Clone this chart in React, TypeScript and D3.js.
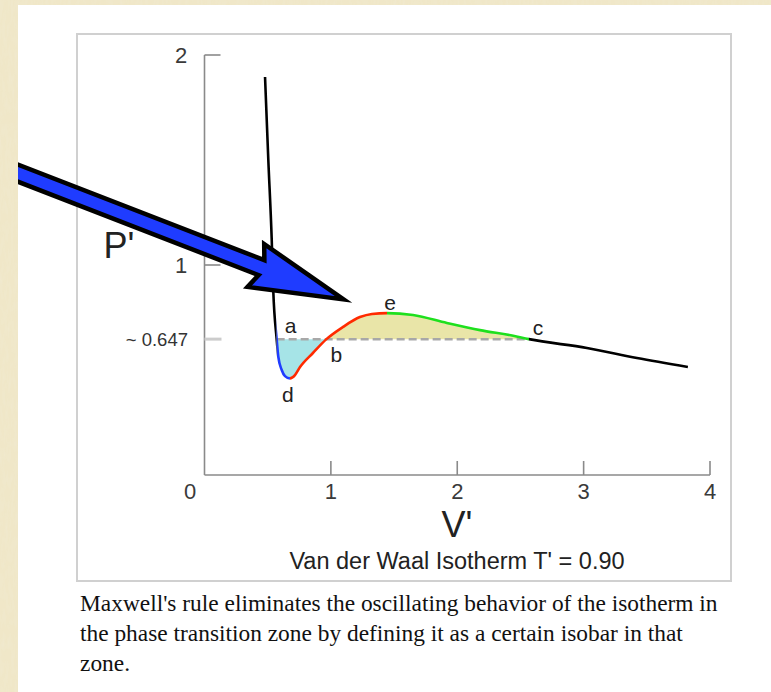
import React from 'react';
import * as d3 from 'd3';

const WIDTH = 771;
const HEIGHT = 692;

// Reduced van der Waals isotherm, T' = 0.90, sampled as (V', P') per branch
const liquidBranch: [number, number][] = [
  [0.479, 1.895], [0.505, 1.5], [0.532, 1.119], [0.544, 0.881], [0.571, 0.647],
];
const metastableLiquid: [number, number][] = [
  [0.571, 0.647], [0.584, 0.563], [0.611, 0.5], [0.637, 0.471], [0.676, 0.46],
];
const unstableBranch: [number, number][] = [
  [0.676, 0.46], [0.716, 0.476], [0.756, 0.514], [0.858, 0.581], [0.965, 0.647],
  [1.096, 0.705], [1.23, 0.752], [1.325, 0.767], [1.444, 0.771],
];
const metastableVapor: [number, number][] = [
  [1.444, 0.771], [1.65, 0.762], [1.918, 0.724], [2.18, 0.69], [2.443, 0.663], [2.567, 0.647],
];
const vaporBranch: [number, number][] = [
  [2.567, 0.647], [3.026, 0.605], [3.422, 0.557], [3.825, 0.514],
];

const maxwellPressure = 0.647;
const maxwellLabel = '~ 0.647';
const xTicks = [0, 1, 2, 3, 4];
const yTicks = [1, 2];
const xTitle = "V'";
const yTitle = "P'";
const chartTitle = "Van der Waal Isotherm  T' = 0.90";
const captionLines = [
  "Maxwell's rule eliminates the oscillating behavior of the isotherm in",
  'the phase transition zone by defining it as a certain isobar in that',
  'zone.',
];

// Named points on the isotherm
const pointA = liquidBranch[liquidBranch.length - 1];
const pointB = unstableBranch[4];
const pointC = metastableVapor[metastableVapor.length - 1];
const pointD = metastableLiquid[metastableLiquid.length - 1];
const pointE = unstableBranch[unstableBranch.length - 1];
const pointLabels: { name: string; p: [number, number]; dx: number; dy: number }[] = [
  { name: 'a', p: pointA, dx: 14, dy: -14 },
  { name: 'b', p: pointB, dx: 10, dy: 15 },
  { name: 'c', p: pointC, dx: 9, dy: -12 },
  { name: 'd', p: pointD, dx: -2, dy: 16 },
  { name: 'e', p: pointE, dx: 3, dy: -11 },
];

// Arrow pointing at the unstable region
const arrowTip: [number, number] = [1.1, 0.836];
const arrowAngleDeg = 21.2;

const SANS = '"Liberation Sans", Arial, Helvetica, sans-serif';
const SERIF = '"Liberation Serif", "Times New Roman", serif';

export default function App() {
  const x = d3.scaleLinear().domain([0, 4]).range([204.5, 710]);
  const y = d3.scaleLinear().domain([0, 2]).range([475, 55]);

  const isotherm: [number, number][] = [
    ...liquidBranch,
    ...metastableLiquid.slice(1),
    ...unstableBranch.slice(1),
    ...metastableVapor.slice(1),
    ...vaporBranch.slice(1),
  ];
  const curve = d3.curveMonotoneX;
  const linePath = d3.line<[number, number]>().x((d) => x(d[0])).y((d) => y(d[1])).curve(curve)(isotherm) || '';
  const areaPath =
    d3.area<[number, number]>().x((d) => x(d[0])).y0(y(maxwellPressure)).y1((d) => y(d[1])).curve(curve)(isotherm) || '';

  const segments = [
    { id: 'seg-liquid', from: -1, to: pointA[0], color: '#000000' },
    { id: 'seg-mliquid', from: pointA[0], to: pointD[0], color: '#1f3cff' },
    { id: 'seg-unstable', from: pointD[0], to: pointE[0], color: '#ff2a00' },
    { id: 'seg-mvapor', from: pointE[0], to: pointC[0], color: '#1ee01e' },
    { id: 'seg-vapor', from: pointC[0], to: 5, color: '#000000' },
  ];
  const fills = [
    { id: 'fill-liquid', from: pointA[0], to: pointB[0], color: '#a6e4e7' },
    { id: 'fill-vapor', from: pointB[0], to: pointC[0], color: '#e9e5a8' },
  ];

  const yMaxwell = y(maxwellPressure);

  // arrow geometry in local frame (tip at origin, pointing +x)
  const [tx, ty] = [x(arrowTip[0]), y(arrowTip[1])];
  const shaftHalf = 8;
  const headHalf = 23;
  const headLen = 94;
  const neck = 88;
  const arrowPts = [
    [0, 0], [-headLen, -headHalf], [-neck, -shaftHalf], [-500, -shaftHalf],
    [-500, shaftHalf], [-neck, shaftHalf], [-headLen, headHalf],
  ];

  return (
    <svg
      width={WIDTH}
      height={HEIGHT}
      viewBox={`0 0 ${WIDTH} ${HEIGHT}`}
      style={{ position: 'absolute', left: 0, top: 0, display: 'block', background: '#ffffff' }}
    >
      <defs>
        {segments.concat(fills).map((s) => (
          <clipPath id={s.id} key={s.id}>
            <rect x={x(s.from)} y={0} width={x(s.to) - x(s.from)} height={HEIGHT} />
          </clipPath>
        ))}
        <filter id="parchment" x="0" y="0" width="100%" height="100%">
          <feTurbulence type="fractalNoise" baseFrequency="0.35 0.08" numOctaves="3" seed="4" result="noise" />
          <feColorMatrix
            in="noise"
            type="matrix"
            values="0 0 0 0 0.88  0 0 0 0 0.82  0 0 0 0 0.64  0 0 0 -1.1 0.7"
            result="tint"
          />
          <feComposite in="tint" in2="SourceGraphic" operator="in" result="spots" />
          <feMerge>
            <feMergeNode in="SourceGraphic" />
            <feMergeNode in="spots" />
          </feMerge>
        </filter>
      </defs>

      <rect x={0} y={0} width={WIDTH} height={HEIGHT} fill="#ffffff" />

      {/* figure frame */}
      <rect x={77} y={34} width={654} height={547} fill="#ffffff" stroke="#d0d0d0" strokeWidth={2} />

      {/* Maxwell equal-area fills */}
      {fills.map((f) => (
        <path key={f.id} d={areaPath} fill={f.color} clipPath={`url(#${f.id})`} />
      ))}

      {/* axes */}
      <g stroke="#8a8a8a" strokeWidth={1.6} fill="none">
        <line x1={x(0)} y1={y(2)} x2={x(0)} y2={y(0)} />
        <line x1={x(0)} y1={y(0)} x2={x(4)} y2={y(0)} />
        {yTicks.map((t) => (
          <line key={`yt${t}`} x1={x(0)} x2={x(0) + 16} y1={y(t)} y2={y(t)} />
        ))}
        {xTicks.filter((t) => t > 0).map((t) => (
          <line key={`xt${t}`} x1={x(t)} x2={x(t)} y1={y(0)} y2={y(0) - 14} />
        ))}
      </g>
      <line x1={x(0)} x2={x(0) + 17} y1={yMaxwell} y2={yMaxwell} stroke="#cccccc" strokeWidth={3} />

      <g fontFamily={SANS} fill="#3a3a3a" fontSize={22}>
        {yTicks.map((t) => (
          <text key={`yl${t}`} x={181} y={y(t)} textAnchor="middle" dominantBaseline="central">
            {t}
          </text>
        ))}
        {xTicks.map((t) => (
          <text key={`xl${t}`} x={t === 0 ? 190 : x(t)} y={491} textAnchor="middle" dominantBaseline="central">
            {t}
          </text>
        ))}
      </g>
      <text x={188} y={yMaxwell} textAnchor="end" dominantBaseline="central" fontFamily={SANS} fontSize={18.5} fill="#333">
        {maxwellLabel}
      </text>
      <text x={119} y={245} textAnchor="middle" dominantBaseline="central" fontFamily={SANS} fontSize={36} fill="#222">
        {yTitle}
      </text>
      <text x={457} y={524} textAnchor="middle" dominantBaseline="central" fontFamily={SANS} fontSize={36} fill="#222">
        {xTitle}
      </text>
      <text x={457} y={561} textAnchor="middle" dominantBaseline="central" fontFamily={SANS} fontSize={23.5} fill="#222">
        {chartTitle}
      </text>

      {/* Maxwell isobar */}
      <line
        x1={x(pointA[0])}
        x2={x(pointC[0])}
        y1={yMaxwell}
        y2={yMaxwell}
        stroke="#a8a8a8"
        strokeWidth={2.5}
        strokeDasharray="8 4"
      />

      {/* isotherm, coloured by branch */}
      {segments.map((s) => (
        <path
          key={s.id}
          d={linePath}
          fill="none"
          stroke={s.color}
          strokeWidth={2.6}
          strokeLinejoin="round"
          clipPath={`url(#${s.id})`}
        />
      ))}

      <g fontFamily={SANS} fontSize={21} fill="#222">
        {pointLabels.map((l) => (
          <text
            key={l.name}
            x={x(l.p[0]) + l.dx}
            y={y(l.p[1]) + l.dy}
            textAnchor="middle"
            dominantBaseline="central"
          >
            {l.name}
          </text>
        ))}
      </g>

      {/* pointer arrow */}
      <polygon
        points={arrowPts.map((p) => p.join(',')).join(' ')}
        transform={`translate(${tx},${ty}) rotate(${arrowAngleDeg})`}
        fill="#1f3cff"
        stroke="#000000"
        strokeWidth={4.5}
        strokeLinejoin="miter"
        strokeMiterlimit={10}
      />

      {/* caption */}
      <g fontFamily={SERIF} fontSize={23.4} fill="#111">
        {captionLines.map((line, i) => (
          <text key={i} x={80} y={611 + i * 30}>
            {line}
          </text>
        ))}
      </g>

      {/* page background strips */}
      <rect x={0} y={0} width={18} height={HEIGHT} fill="#f0e7c8" filter="url(#parchment)" />
      <rect x={0} y={0} width={WIDTH} height={5} fill="#f0e7c8" filter="url(#parchment)" />
    </svg>
  );
}
